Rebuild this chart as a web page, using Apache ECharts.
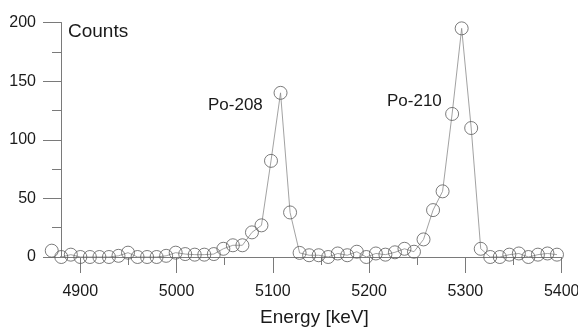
<!DOCTYPE html>
<html>
<head>
<meta charset="utf-8">
<script src="https://cdn.jsdelivr.net/npm/echarts@6/dist/echarts.min.js"></script>
<style>
  html, body { margin: 0; padding: 0; background: #fff; }
  #chart { width: 578px; height: 329px; }
</style>
</head>
<body>
<div id="chart"></div>
<script>
/* ── Data ─────────────────────────────────────────── */
const energy = [
  4870.4, 4880.3, 4890.2, 4900.1, 4910.0, 4919.9, 4929.8, 4939.7, 4949.6, 4959.5,
  4969.4, 4979.3, 4989.2, 4999.1, 5009.0, 5018.9, 5028.8, 5038.7, 5048.6, 5058.5,
  5068.4, 5078.3, 5088.2, 5098.1, 5108.0, 5117.9, 5127.8, 5137.7, 5147.6, 5157.5,
  5167.4, 5177.3, 5187.2, 5197.1, 5207.0, 5216.9, 5226.8, 5236.7, 5246.6, 5256.5,
  5266.4, 5276.3, 5286.2, 5296.1, 5306.0, 5315.9, 5325.8, 5335.7, 5345.6, 5355.5,
  5365.4, 5375.3, 5385.2, 5395.1
];
const counts = [
  5.4, 0, 2, 0, 0, 0, 0, 1, 3.7, 0,
  0, 0, 1, 3.7, 2.5, 2, 2, 2.5, 7, 10,
  10, 21, 27, 82, 140, 38, 3.5, 1.5, 1.5, 0,
  3, 1.5, 4.5, 0, 3, 2, 4, 7, 4.5, 15,
  40, 56, 122, 195, 110, 7, 0, 0, 2, 3,
  0, 2, 3, 2
];
const xMajorTicks = [4900, 5000, 5100, 5200, 5300, 5400];
const xMinorTicks = [4950, 5050, 5150, 5250, 5350];
const peakLabels = ["Po-208", "Po-210"];

const FONT = "'Liberation Sans', Arial, Helvetica, sans-serif";
const AXIS_GRAY = "#7a7a7a";

const chart = echarts.init(document.getElementById("chart"));

chart.setOption({
  backgroundColor: "#fff",
  animation: false,
  grid: { left: 61, right: 16.3, top: 22.5, bottom: 72, outerBoundsMode: "none", containLabel: false },
  xAxis: [
    {
      type: "value",
      min: 4880,
      max: 5400,
      splitLine: { show: false },
      axisLine: { lineStyle: { color: AXIS_GRAY, width: 1 } },
      axisTick: { customValues: xMajorTicks, length: 16, lineStyle: { color: AXIS_GRAY } },
      axisLabel: {
        customValues: xMajorTicks,
        formatter: (v) => String(v),
        margin: 27,
        color: "#1a1a1a",
        fontSize: 16,
        fontFamily: FONT,
      },
      name: "Energy [keV]",
      nameLocation: "middle",
      nameGap: 51,
      nameMoveOverlap: false,
      nameTextStyle: { color: "#1a1a1a", fontSize: 19, fontFamily: FONT, padding: [0, 0, 0, 6] },
    },
    {
      type: "value",
      min: 4880,
      max: 5400,
      position: "bottom",
      splitLine: { show: false },
      axisLine: { show: false },
      axisTick: { customValues: xMinorTicks, length: 8, lineStyle: { color: AXIS_GRAY } },
      axisLabel: { show: false },
    },
  ],
  yAxis: {
    type: "value",
    min: 0,
    max: 200,
    interval: 50,
    splitLine: { show: false },
    axisLine: { show: true, lineStyle: { color: AXIS_GRAY, width: 1 } },
    axisTick: { show: true, length: 18, lineStyle: { color: AXIS_GRAY } },
    minorTick: { show: true, splitNumber: 2, length: 9, lineStyle: { color: AXIS_GRAY } },
    axisLabel: { margin: 25, color: "#1a1a1a", fontSize: 16, fontFamily: FONT },
  },
  graphic: [
    { type: "text", left: 68, top: 22, style: { text: "Counts", fontSize: 19, fontFamily: FONT, fill: "#1a1a1a" } },
    { type: "text", left: 208, top: 97, style: { text: peakLabels[0], fontSize: 17, fontFamily: FONT, fill: "#1a1a1a" } },
    { type: "text", left: 387, top: 93, style: { text: peakLabels[1], fontSize: 17, fontFamily: FONT, fill: "#1a1a1a" } },
  ],
  series: [{
    type: "line",
    data: energy.map((e, i) => [e, counts[i]]),
    clip: false,
    symbol: "circle",
    symbolSize: 13,
    lineStyle: { color: "#8a8a8a", width: 0.8 },
    itemStyle: { color: "rgba(0,0,0,0)", borderColor: "#5a5a5a", borderWidth: 0.8 },
  }],
});
</script>
</body>
</html>
